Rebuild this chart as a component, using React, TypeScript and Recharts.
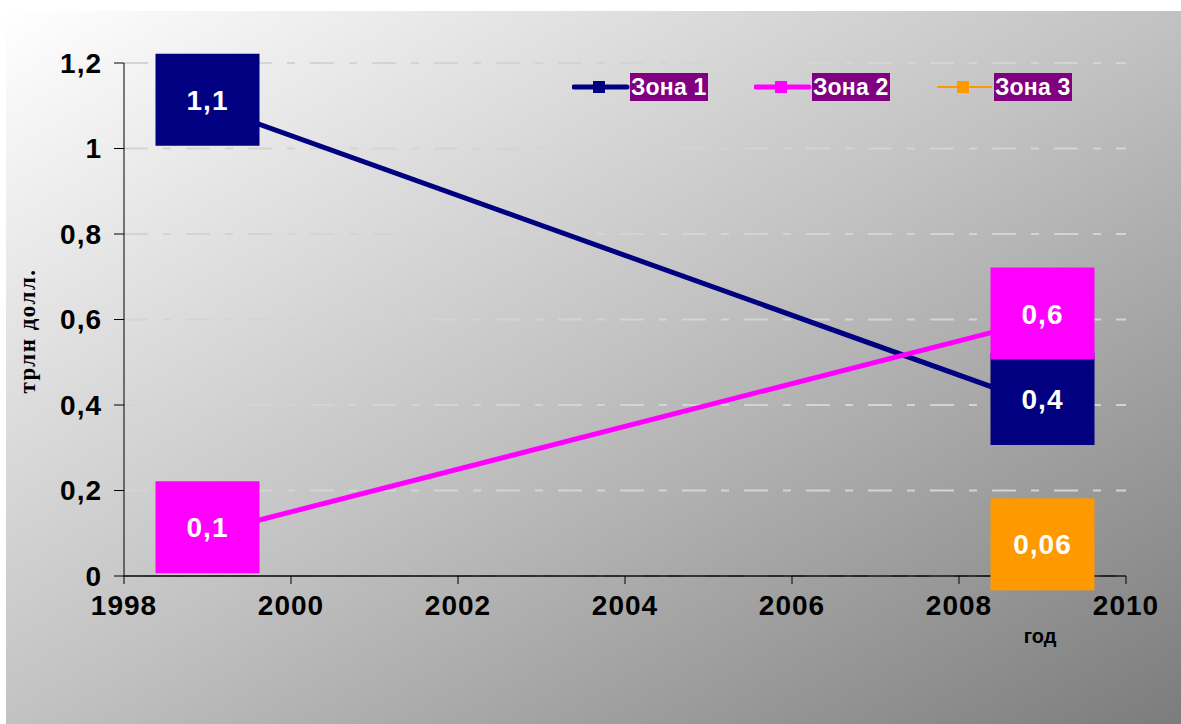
import { LineChart, Line, XAxis, YAxis, CartesianGrid, Legend } from 'recharts'

const years = [1999, 2009]
const zone1 = [1.1, 0.4]
const zone2 = [0.1, 0.6]
const zone3 = [null, 0.06]
const xTicks = [1998, 2000, 2002, 2004, 2006, 2008, 2010]
const yTicks = [0, 0.2, 0.4, 0.6, 0.8, 1, 1.2]

const series = [
  { key: 'zone1', name: 'Зона 1', color: '#000080', width: 5 },
  { key: 'zone2', name: 'Зона 2', color: '#ff00ff', width: 5 },
  { key: 'zone3', name: 'Зона 3', color: '#ff9900', width: 2 },
]

const data = years.map((year, i) => ({
  year,
  zone1: zone1[i],
  zone2: zone2[i],
  zone3: zone3[i],
}))

const FONT = '"Liberation Sans", Arial, sans-serif'
const comma = (v: number) => String(v).replace('.', ',')

// большой квадратный маркер с подписью внутри
const makeDot = (color: string) => (props: any) => {
  const { cx, cy, value, index } = props
  if (value == null || cx == null || cy == null) return <g key={`e-${index}`} />
  const w = 104
  const h = 92
  const y0 = cy - 6
  return (
    <g key={`d-${color}-${index}`}>
      <rect x={cx - w / 2} y={y0 - h / 2} width={w} height={h} fill={color} />
      <text
        x={cx}
        y={y0}
        dy="0.36em"
        textAnchor="middle"
        fill="#ffffff"
        fontFamily={FONT}
        fontWeight="bold"
        fontSize={28}
        letterSpacing={1}
      >
        {comma(value)}
      </text>
    </g>
  )
}

const LegendContent = () => (
  <div style={{ display: 'flex', gap: 0 }}>
    {series.map((s) => (
      <div key={s.key} style={{ display: 'flex', alignItems: 'center', width: 182 }}>
        <svg width={58} height={28}>
          <line x1={2} y1={14} x2={55} y2={14} stroke={s.color} strokeWidth={s.width} strokeLinecap="round" />
          <rect x={21} y={8} width={12} height={12} fill={s.color} />
        </svg>
        <span
          style={{
            background: '#800080',
            color: '#ffffff',
            fontFamily: FONT,
            fontWeight: 'bold',
            fontSize: 23,
            letterSpacing: 0.2,
            lineHeight: '28px',
            padding: '0 1px',
            whiteSpace: 'nowrap',
          }}
        >
          {s.name}
        </span>
      </div>
    ))}
  </div>
)

export default function App() {
  return (
    <div style={{ position: 'absolute', left: 0, top: 0, width: 1181, height: 724, background: '#ffffff' }}>
      <div
        style={{
          position: 'absolute',
          left: 6,
          top: 11,
          width: 1175,
          height: 713,
          background: 'linear-gradient(to bottom right, #ffffff 0%, #c2c2c2 50%, #7c7c7c 100%)',
        }}
      >
        <LineChart width={1175} height={713} data={data} margin={{ top: 24, right: 55, left: 0, bottom: 80 }}>
          <CartesianGrid vertical={false} stroke="#d4d4d4" strokeWidth={2} strokeDasharray="24 15 8 15" />
          <XAxis
            dataKey="year"
            type="number"
            domain={[1998, 2010]}
            ticks={xTicks}
            axisLine={{ stroke: '#000000', strokeWidth: 1.5 }}
            tickLine={{ stroke: '#000000' }}
            tickSize={8}
            tickMargin={11}
            height={68}
            tick={{ fill: '#000000', fontFamily: FONT, fontWeight: 'bold', fontSize: 28, letterSpacing: 1 }}
            label={{
              content: () => (
                <text x={1034} y={632} textAnchor="middle" fontFamily={FONT} fontWeight="bold" fontSize={20} fill="#000000">
                  год
                </text>
              ),
            }}
          />
          <YAxis
            type="number"
            domain={[0, 1.2]}
            ticks={yTicks}
            width={118}
            axisLine={{ stroke: '#000000', strokeWidth: 1 }}
            tickLine={{ stroke: '#000000' }}
            tickSize={10}
            tickMargin={12}
            tickFormatter={comma}
            tick={{ fill: '#000000', fontFamily: FONT, fontWeight: 'bold', fontSize: 28, letterSpacing: 1 }}
            label={{
              content: () => (
                <text
                  x={24}
                  y={320}
                  transform="rotate(-90, 24, 320)"
                  textAnchor="middle"
                  dominantBaseline="middle"
                  fontFamily='"Liberation Serif", "Times New Roman", serif'
                  fontWeight="bold"
                  fontSize={23}
                  letterSpacing={1.5}
                  fill="#000000"
                >
                  трлн долл.
                </text>
              ),
            }}
          />
          <Legend
            verticalAlign="top"
            align="left"
            content={<LegendContent />}
            wrapperStyle={{ top: 62, left: 566, width: 560 }}
          />
          {series.map((s) => (
            <Line
              key={s.key}
              dataKey={s.key}
              name={s.name}
              type="linear"
              stroke={s.color}
              strokeWidth={s.width}
              dot={makeDot(s.color)}
              activeDot={false}
              connectNulls
              isAnimationActive={false}
            />
          ))}
        </LineChart>
      </div>
    </div>
  )
}
